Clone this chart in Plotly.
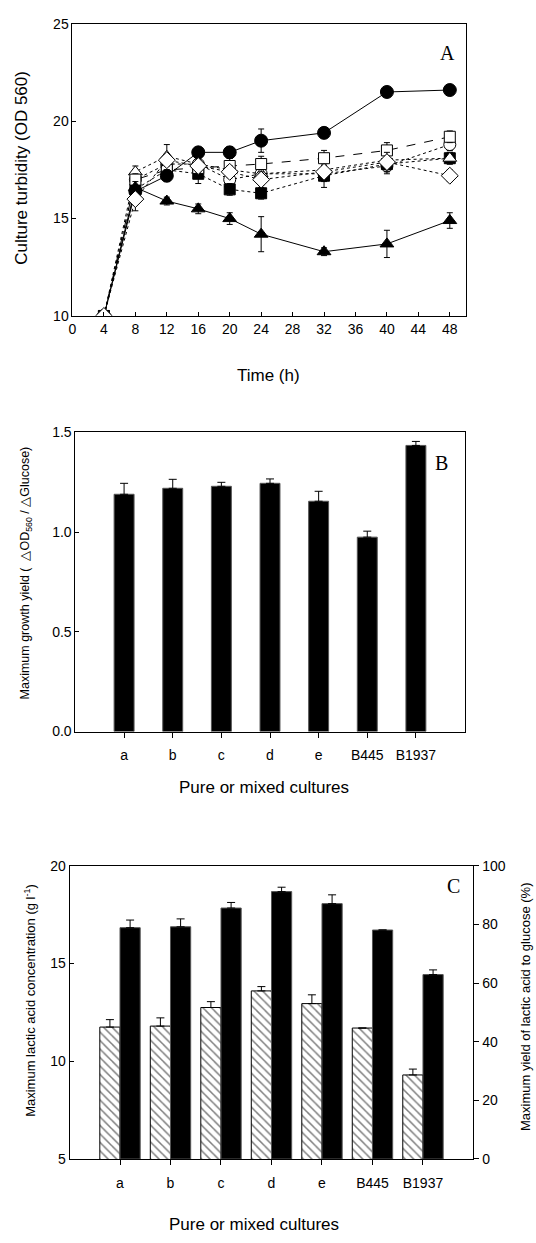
import plotly.graph_objects as go

W, H = 536, 1243

# ---------------- Panel A data ----------------
time_h = [4, 8, 12, 16, 20, 24, 32, 40, 48]
filled_circle = [10, 16.4, 17.2, 18.4, 18.4, 19.0, 19.4, 21.5, 21.6]
filled_circle_err = [0, 0.3, 0.3, 0.2, 0.3, 0.6, 0.2, 0.2, 0.2]
filled_triangle = [10, 16.6, 15.9, 15.5, 15.0, 14.2, 13.3, 13.7, 14.9]
filled_triangle_err = [0, 0.3, 0.2, 0.25, 0.3, 0.9, 0.2, 0.7, 0.4]
open_square = [10, 17.0, 17.5, 17.6, 17.7, 17.8, 18.1, 18.5, 19.2]
open_square_err = [0, 0.3, 0.3, 0.4, 0.4, 0.4, 0.4, 0.4, 0.3]
open_circle = [10, 17.0, 17.8, 17.8, 17.0, 17.3, 17.3, 17.7, 18.8]
open_circle_err = [0, 0.3, 0.5, 0.4, 0.3, 0.3, 0.4, 0.4, 0.3]
filled_square = [10, 16.5, 17.5, 17.3, 16.5, 16.3, 17.2, 17.8, 18.1]
filled_square_err = [0, 0.3, 0.5, 0.5, 0.3, 0.3, 0.6, 0.3, 0.3]
open_triangle = [10, 17.4, 18.2, 17.8, 17.5, 17.3, 17.5, 18.0, 18.1]
open_triangle_err = [0, 0.3, 0.6, 0.3, 0.3, 0.3, 0.4, 0.3, 0.3]
open_diamond = [10, 16.0, 18.0, 17.7, 17.4, 17.0, 17.4, 17.9, 17.2]
open_diamond_err = [0, 0.6, 0.3, 0.3, 0.3, 0.3, 0.3, 0.5, 0.3]
time_ticks = list(range(0, 49, 4))

# ---------------- Panel B data ----------------
cultures = ["a", "b", "c", "d", "e", "B445", "B1937"]
growth_yield = [1.19, 1.22, 1.23, 1.245, 1.155, 0.975, 1.435]
growth_yield_err = [0.055, 0.045, 0.02, 0.022, 0.05, 0.03, 0.02]

# ---------------- Panel C data ----------------
lactic_conc = [11.75, 11.8, 12.75, 13.6, 12.95, 11.7, 9.3]
lactic_conc_err = [0.38, 0.42, 0.3, 0.22, 0.45, None, 0.3]
lactic_yield = [78.9, 79.2, 85.6, 91.2, 87.1, 78.1, 62.9]
lactic_yield_err = [2.6, 2.7, 1.9, 1.5, 3.0, None, 1.6]

FONT = "Liberation Sans, Arial, sans-serif"
SERIF = "Liberation Serif, Times New Roman, serif"


def px_x(p):
    return p / W


def px_y(p):
    return 1 - p / H


fig = go.Figure()


def line_trace(y, err, symbol, filled, dash, size=11):
    return go.Scatter(
        x=time_h, y=y, mode="lines+markers",
        line=dict(color="black", width=1, dash=dash),
        marker=dict(symbol=symbol, size=size,
                    color="black" if filled else "white",
                    line=dict(color="black", width=1)),
        error_y=dict(type="data", array=err, color="black", thickness=1, width=3),
        xaxis="x", yaxis="y", showlegend=False,
    )


fig.add_trace(line_trace(open_circle, open_circle_err, "circle", False, "dot", 12))
fig.add_trace(line_trace(filled_square, filled_square_err, "square", True, "dot", 11))
fig.add_trace(line_trace(open_triangle, open_triangle_err, "triangle-up", False, "dot", 12))
fig.add_trace(line_trace(open_square, open_square_err, "square", False, "dash", 11))
fig.add_trace(line_trace(filled_triangle, filled_triangle_err, "triangle-up", True, "solid", 12))
fig.add_trace(line_trace(filled_circle, filled_circle_err, "circle", True, "solid", 13))
fig.add_trace(line_trace(open_diamond, open_diamond_err, "diamond", False, "dot", 13))

# Panel B bars
fig.add_trace(go.Bar(
    x=cultures, y=growth_yield, width=0.41,
    marker=dict(color="black", line=dict(color="#555555", width=1)),
    error_y=dict(type="data", symmetric=False, array=growth_yield_err,
                 arrayminus=[0] * 7, color="black", thickness=1, width=4),
    xaxis="x2", yaxis="y2", showlegend=False,
))

# Panel C bars
fig.add_trace(go.Bar(
    x=cultures, y=lactic_conc, width=0.4, offset=-0.4,
    marker=dict(color="white", line=dict(color="black", width=1),
                pattern=dict(shape="\\", fgcolor="black", bgcolor="white",
                             size=6, solidity=0.25, fillmode="overlay")),
    error_y=dict(type="data", symmetric=False, array=lactic_conc_err,
                 arrayminus=[0] * 7, color="black", thickness=1, width=4),
    xaxis="x3", yaxis="y3", showlegend=False,
))
fig.add_trace(go.Bar(
    x=cultures, y=lactic_yield, width=0.4, offset=0.0,
    marker=dict(color="black", line=dict(color="#555555", width=1)),
    error_y=dict(type="data", symmetric=False, array=lactic_yield_err,
                 arrayminus=[0] * 7, color="black", thickness=1, width=4),
    xaxis="x3", yaxis="y4", showlegend=False,
))

axis_common = dict(showline=True, linecolor="black", linewidth=1, showgrid=False,
                   zeroline=False, tickfont=dict(family=FONT, size=14, color="black"),
                   tickcolor="black")

fig.update_layout(
    width=W, height=H, autosize=False,
    margin=dict(l=0, r=0, t=0, b=0),
    paper_bgcolor="white", plot_bgcolor="white",
    showlegend=False,
    xaxis=dict(domain=[px_x(69), px_x(465)], anchor="y", range=[0, 50],
               tickvals=time_ticks, ticks="inside", ticklen=4, mirror=True,
               **axis_common),
    yaxis=dict(domain=[px_y(312), px_y(16)], anchor="x", range=[10, 25],
               tickvals=[10, 15, 20, 25], ticks="inside", ticklen=4, mirror=True,
               **axis_common),
    xaxis2=dict(domain=[px_x(72), px_x(464)], anchor="y2", type="category",
                categoryorder="array", categoryarray=cultures, range=[-1, 7],
                ticks="outside", ticklen=5, mirror=True, ticklabelstandoff=6,
                **axis_common),
    yaxis2=dict(domain=[px_y(733), px_y(430)], anchor="x2", range=[0, 1.5],
                tickvals=[0, 0.5, 1.0, 1.5], tickformat=".1f", ticks="inside",
                ticklen=4, mirror=True, **axis_common),
    xaxis3=dict(domain=[px_x(66), px_x(473)], anchor="y3", type="category",
                categoryorder="array", categoryarray=cultures, range=[-1, 7],
                ticks="outside", ticklen=5, mirror=True, ticklabelstandoff=6,
                **axis_common),
    yaxis3=dict(domain=[px_y(1166), px_y(869)], anchor="x3", range=[5, 20],
                tickvals=[5, 10, 15, 20], ticks="inside", ticklen=4,
                **axis_common),
    yaxis4=dict(overlaying="y3", side="right", anchor="x3", range=[0, 100],
                tickvals=[0, 20, 40, 60, 80, 100], ticks="outside", ticklen=5,
                **axis_common),
)

ann = []


def add_text(x, y, text, size, angle=0, family=FONT):
    ann.append(dict(x=px_x(x), y=px_y(y), xref="paper", yref="paper", text=text,
                    showarrow=False, textangle=angle, xanchor="center",
                    yanchor="middle", font=dict(family=family, size=size, color="black")))


add_text(18, 162, "Culture turbidity (OD 560)", 17, -90)
add_text(266, 372, "Time (h)", 17)
add_text(22, 572, "Maximum growth yield (  \u25b3OD<sub>560</sub> / \u25b3Glucose)", 12.5, -90)
add_text(262, 790, "Pure or mixed cultures", 17)
add_text(26, 1005, "Maximum lactic acid concentration (g l<sup>-1</sup>)", 13, -90)
add_text(526, 1012, "Maximum yield of lactic acid to glucose (%)", 13, -90)
add_text(252, 1232, "Pure or mixed cultures", 17)
add_text(447, 46, "A", 20, 0, SERIF)
add_text(441, 461, "B", 20, 0, SERIF)
add_text(453, 889, "C", 20, 0, SERIF)

fig.update_layout(annotations=ann)

fig.write_html("out.html")
